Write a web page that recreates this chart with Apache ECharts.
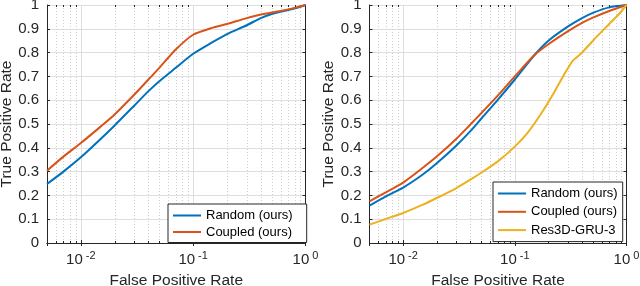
<!DOCTYPE html>
<html>
<head>
<meta charset="utf-8">
<script src="https://cdn.jsdelivr.net/npm/echarts@6/dist/echarts.min.js"></script>
<style>html,body{margin:0;padding:0;background:#fff}#c{width:640px;height:286px}</style>
</head>
<body>
<div id="c"></div>
<script>
// ---- data ----
const leftRandomFPR = [0.005,0.007,0.01,0.015,0.02,0.03,0.04,0.05,0.07,0.1,0.15,0.2,0.3,0.4,0.5,0.6,0.8,1.0];
const leftRandomTPR = [0.248,0.30,0.36,0.437,0.494,0.578,0.638,0.68,0.736,0.795,0.845,0.878,0.915,0.945,0.962,0.972,0.985,1.0];
const leftCoupledFPR = [0.005,0.007,0.01,0.015,0.02,0.03,0.04,0.05,0.07,0.1,0.15,0.2,0.3,0.4,0.6,0.8,1.0];
const leftCoupledTPR = [0.304,0.363,0.42,0.489,0.54,0.624,0.687,0.736,0.813,0.875,0.905,0.92,0.945,0.96,0.975,0.988,1.0];

const rightRandomFPR = [0.005,0.007,0.01,0.015,0.02,0.03,0.04,0.05,0.07,0.1,0.15,0.2,0.3,0.4,0.5,0.7,1.0];
const rightRandomTPR = [0.157,0.196,0.233,0.288,0.335,0.41,0.47,0.522,0.60,0.687,0.79,0.85,0.91,0.945,0.967,0.99,1.0];
const rightCoupledFPR = [0.005,0.007,0.01,0.015,0.02,0.03,0.04,0.05,0.07,0.1,0.15,0.2,0.3,0.4,0.5,0.7,1.0];
const rightCoupledTPR = [0.175,0.213,0.254,0.316,0.363,0.438,0.498,0.545,0.618,0.70,0.79,0.835,0.89,0.925,0.947,0.975,1.0];
const rightResFPR = [0.005,0.007,0.01,0.015,0.02,0.03,0.04,0.05,0.07,0.1,0.13,0.17,0.22,0.27,0.3,0.33,0.4,0.5,0.7,0.85,1.0];
const rightResTPR = [0.077,0.101,0.126,0.161,0.189,0.231,0.266,0.295,0.342,0.405,0.463,0.54,0.625,0.70,0.735,0.765,0.80,0.85,0.92,0.96,1.0];

const seriesNames = ['Random (ours)','Coupled (ours)','Res3D-GRU-3'];
const minorTicksX = [0.006,0.007,0.008,0.009,0.02,0.03,0.04,0.05,0.06,0.07,0.08,0.09,0.2,0.3,0.4,0.5,0.6,0.7,0.8,0.9];
const xMin = 0.005, xMax = 1;
const yTicksStep = 0.1;

// ---- styles ----
const FONT = 'Liberation Sans, Arial, Helvetica, sans-serif';
const AX = '#262626';
const COLORS = ['#0072BD','#D95319','#EDB120'];

function zip(a,b){return a.map((v,i)=>[v,b[i]]);}
function xLabel(v){
  const e = Math.log10(v);
  if (Math.abs(e - Math.round(e)) > 1e-6) return '';
  return '{b|10}{s|' + Math.round(e) + '}';
}
function xAxes(gi){
  return [{
    type:'log', gridIndex:gi, min:xMin, max:xMax, logBase:10,
    axisLine:{show:true,lineStyle:{color:AX,width:1}},
    axisTick:{show:true,inside:true,length:3,lineStyle:{color:AX}},
    splitLine:{show:true,lineStyle:{color:'#dedede',width:1}},
    axisLabel:{formatter:xLabel, margin:7, color:AX, hideOverlap:false,
      rich:{b:{fontSize:15,fontFamily:FONT,color:AX,lineHeight:17,verticalAlign:'bottom'},
            s:{fontSize:11,fontFamily:FONT,color:AX,lineHeight:8,verticalAlign:'top',padding:[0,0,0,3]}}},
    name:'False Positive Rate', nameLocation:'middle', nameGap:30,
    nameTextStyle:{fontSize:15.5,fontFamily:FONT,color:AX}
  },{
    type:'log', gridIndex:gi, min:xMin, max:xMax, position:'top',
    axisLine:{show:true,lineStyle:{color:AX,width:1}},
    axisTick:{show:true,inside:true,length:3,lineStyle:{color:AX}},
    splitLine:{show:false}, axisLabel:{show:false}
  }];
}
function yAxes(gi){
  return [{
    type:'value', gridIndex:gi, min:0, max:1, interval:yTicksStep,
    axisLine:{show:true,lineStyle:{color:AX,width:1}},
    axisTick:{show:true,inside:true,length:3,lineStyle:{color:AX}},
    splitLine:{show:true,lineStyle:{color:'#dedede',width:1}},
    axisLabel:{fontSize:15,fontFamily:FONT,color:AX,margin:8},
    name:'True Positive Rate', nameLocation:'middle', nameGap:30,
    nameTextStyle:{fontSize:15.5,fontFamily:FONT,color:AX}
  },{
    type:'value', gridIndex:gi, min:0, max:1, interval:yTicksStep, position:'right',
    axisLine:{show:true,lineStyle:{color:AX,width:1}},
    axisTick:{show:true,inside:true,length:3,lineStyle:{color:AX}},
    splitLine:{show:false}, axisLabel:{show:false}
  }];
}
function minorSeries(xi, yi){
  return {
    type:'custom', xAxisIndex:xi, yAxisIndex:yi, z:1, silent:true,
    data: minorTicksX.map(v=>[v,0]),
    encode:{x:0,y:1},
    renderItem:function(params, api){
      const x = api.value(0);
      const p0 = api.coord([x,0]);
      const p1 = api.coord([x,1]);
      const px = Math.round(p0[0]) + 0.5;
      return {type:'group', children:[
        {type:'line', shape:{x1:px,y1:p0[1],x2:px,y2:p1[1]}, style:{stroke:'#cfcfcf',lineWidth:1,lineDash:[1,2]}},
        {type:'line', shape:{x1:px,y1:p0[1],x2:px,y2:p0[1]-2}, style:{stroke:AX,lineWidth:1}},
        {type:'line', shape:{x1:px,y1:p1[1],x2:px,y2:p1[1]+2}, style:{stroke:AX,lineWidth:1}}
      ]};
    }
  };
}
function lineSeries(name, xs, ys, color, xi, yi){
  return {type:'line', name:name, xAxisIndex:xi, yAxisIndex:yi, data:zip(xs,ys),
    symbol:'none', smooth:0.25, z:3,
    lineStyle:{color:color,width:2}, itemStyle:{color:color}};
}
const legendCommon = {
  orient:'vertical', icon:'rect', itemWidth:28, itemHeight:2,
  backgroundColor:'#fff', borderColor:AX, borderWidth:1,
  textStyle:{fontSize:13,fontFamily:FONT,color:'#000',lineHeight:15},
  selectedMode:false
};

const chart = echarts.init(document.getElementById('c'), null, {renderer:'canvas'});
chart.setOption({
  animation:false,
  grid:[
    {left:47, top:5, width:258.5, height:238, outerBoundsMode:'none', containLabel:false},
    {left:369.5, top:5, width:257, height:238, outerBoundsMode:'none', containLabel:false}
  ],
  xAxis:[...xAxes(0), ...xAxes(1)],
  yAxis:[...yAxes(0), ...yAxes(1)],
  legend:[
    Object.assign({}, legendCommon, {left:168, top:204, itemGap:1.5, padding:[4,14,3,5],
      data:[seriesNames[0], seriesNames[1]]}),
    Object.assign({}, legendCommon, {left:493, top:182, itemGap:3.3, padding:[4,5,4,5],
      data:[seriesNames[0], seriesNames[1], seriesNames[2]]})
  ],
  series:[
    minorSeries(0,0),
    minorSeries(2,2),
    lineSeries(seriesNames[0], leftRandomFPR, leftRandomTPR, COLORS[0], 0, 0),
    lineSeries(seriesNames[1], leftCoupledFPR, leftCoupledTPR, COLORS[1], 0, 0),
    lineSeries(seriesNames[0], rightRandomFPR, rightRandomTPR, COLORS[0], 2, 2),
    lineSeries(seriesNames[1], rightCoupledFPR, rightCoupledTPR, COLORS[1], 2, 2),
    lineSeries(seriesNames[2], rightResFPR, rightResTPR, COLORS[2], 2, 2)
  ]
});
</script>
</body>
</html>
